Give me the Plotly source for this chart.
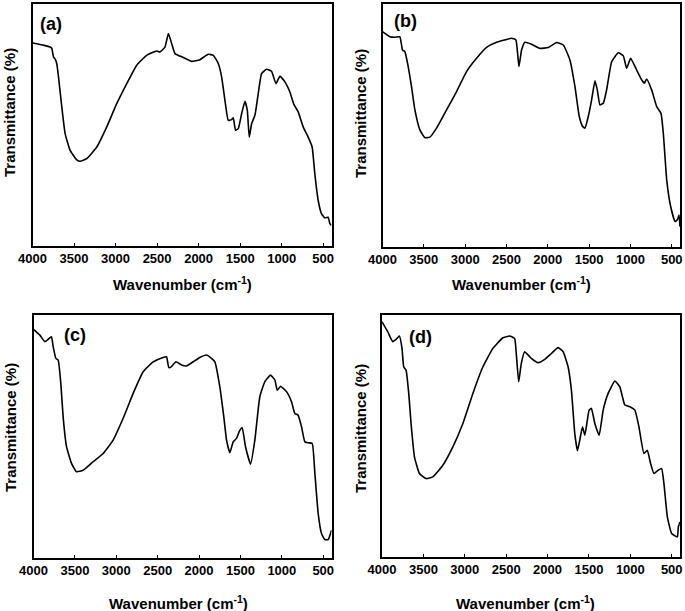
import plotly.graph_objects as go

W, H = 685, 611

# ---------------- data (transmittance, arbitrary units 0-100) ----------------
wn_a = [4000, 3868, 3788, 3767, 3747, 3727, 3707, 3687, 3647, 3607, 3547, 3467, 3427, 3347, 3226, 3106,
        2986, 2865, 2745, 2625, 2505, 2465, 2405, 2364, 2324, 2284, 2184, 2084, 1984, 1883, 1823, 1763,
        1723, 1683, 1643, 1603, 1583, 1555, 1522, 1482, 1442, 1414, 1390, 1362, 1322, 1282, 1242, 1182,
        1122, 1069, 1021, 961, 901, 853, 801, 741, 681, 633, 601, 560, 520, 480, 440, 420, 400]
tr_a = [83.7, 82.8, 82.0, 81.4, 77.9, 77.0, 75.0, 69.7, 57.2, 46.2, 39.3, 35.4, 34.8, 35.9, 40.7, 49.0,
        58.6, 66.9, 74.5, 78.6, 80.4, 80.0, 82.0, 87.6, 83.4, 79.3, 77.7, 76.1, 76.8, 79.0, 78.6, 75.2,
        69.7, 60.0, 51.7, 52.0, 52.8, 47.6, 48.3, 54.5, 59.6, 55.9, 44.8, 50.3, 53.8, 62.8, 71.0, 72.8,
        72.0, 66.9, 69.9, 67.6, 63.4, 58.3, 55.2, 49.0, 44.8, 40.7, 29.7, 18.6, 13.1, 11.4, 11.7, 9.0, 8.3]

wn_b = [4000, 3911, 3851, 3790, 3758, 3730, 3689, 3649, 3608, 3548, 3487, 3427, 3346, 3225, 3104, 2983,
        2862, 2741, 2620, 2519, 2438, 2386, 2349, 2317, 2277, 2196, 2095, 1994, 1893, 1812, 1732, 1671,
        1619, 1578, 1550, 1510, 1470, 1429, 1401, 1369, 1328, 1288, 1227, 1147, 1086, 1046, 997, 925,
        864, 832, 804, 743, 682, 630, 602, 561, 513, 460, 432, 412, 400]
tr_b = [88.6, 86.5, 86.3, 86.5, 81.0, 80.4, 74.2, 65.9, 56.3, 48.1, 44.9, 45.1, 48.8, 56.3, 63.9, 72.1,
        77.6, 82.1, 84.2, 85.2, 85.9, 85.2, 74.2, 81.0, 84.2, 83.4, 81.7, 82.1, 84.1, 83.1, 76.9, 65.9,
        53.6, 49.5, 48.8, 53.6, 60.4, 68.3, 64.6, 58.4, 59.1, 64.6, 76.2, 79.9, 78.6, 73.5, 77.6, 72.8,
        68.7, 67.3, 69.1, 64.6, 57.7, 54.9, 46.7, 27.5, 16.5, 10.3, 11.0, 13.0, 8.2]

wn_c = [4000, 3923, 3863, 3823, 3783, 3762, 3730, 3702, 3670, 3642, 3601, 3541, 3481, 3400, 3279, 3158,
        3038, 2917, 2796, 2675, 2554, 2434, 2393, 2365, 2333, 2280, 2212, 2152, 2071, 1991, 1910, 1850,
        1809, 1749, 1701, 1668, 1628, 1588, 1548, 1515, 1479, 1439, 1378, 1326, 1266, 1205, 1137, 1084,
        1056, 1016, 943, 883, 843, 803, 762, 722, 682, 633, 601, 561, 521, 481, 440, 412, 400]
tr_c = [94.1, 91.7, 89.0, 90.0, 91.0, 86.9, 82.1, 81.4, 71.8, 58.0, 45.7, 38.8, 35.4, 36.0, 39.5, 42.9,
        48.4, 57.4, 67.7, 76.6, 80.7, 82.5, 82.8, 78.3, 78.7, 80.7, 79.4, 79.0, 80.7, 82.5, 83.5, 82.1,
        80.7, 70.4, 58.0, 48.4, 43.2, 47.7, 49.1, 51.9, 53.6, 45.7, 38.5, 48.4, 66.3, 72.5, 75.2, 73.2,
        69.0, 70.6, 68.4, 64.2, 59.4, 58.7, 53.9, 47.7, 47.3, 47.0, 34.7, 18.2, 9.9, 7.4, 7.4, 9.9, 11.3]

wn_d = [4000, 3931, 3871, 3830, 3790, 3758, 3738, 3709, 3677, 3649, 3608, 3548, 3467, 3387, 3265, 3144,
        3023, 2902, 2781, 2660, 2539, 2458, 2398, 2378, 2349, 2317, 2277, 2196, 2115, 2034, 1954, 1873,
        1812, 1752, 1712, 1671, 1639, 1611, 1578, 1550, 1522, 1498, 1470, 1429, 1377, 1328, 1268, 1187,
        1127, 1066, 1005, 945, 896, 836, 795, 755, 715, 662, 622, 594, 553, 501, 432, 420, 400]
tr_d = [97.2, 93.1, 89.0, 89.9, 91.3, 86.2, 78.6, 77.2, 67.6, 55.2, 41.4, 34.5, 32.4, 33.1, 37.9, 45.5,
        55.2, 67.6, 78.6, 86.2, 90.6, 91.3, 90.3, 84.1, 72.4, 80.0, 84.8, 82.1, 80.3, 81.7, 84.1, 86.5,
        84.8, 78.6, 69.0, 51.0, 43.9, 48.3, 53.8, 50.3, 55.9, 60.7, 61.4, 55.2, 50.3, 60.7, 67.6, 72.7,
        70.3, 62.8, 62.1, 60.7, 53.8, 42.8, 44.1, 38.6, 34.5, 35.9, 36.6, 30.3, 16.6, 9.7, 8.3, 12.4, 14.5]

x_ticks = [4000, 3500, 3000, 2500, 2000, 1500, 1000, 500]
x_title = "Wavenumber (cm<sup>-1</sup>)"
y_title = "Transmittance (%)"
panel_labels = ["(a)", "(b)", "(c)", "(d)"]

# ---------------- layout (pixel geometry) ----------------
def fx(p):
    return p / W

def fy(p):
    return 1 - p / H

panels = [
    # data, plot box (x0, x1, ytop, ybottom), label pos, x-title pos, y-title pos
    (wn_a, tr_a, (32.5, 331.5, 3.5, 245.5), (51, 24), (182, 283), (10, 113)),
    (wn_b, tr_b, (382.5, 680, 4, 246.5), (405, 21), (521, 283), (360, 114)),
    (wn_c, tr_c, (33.5, 331.5, 315, 557.5), (75, 335), (178, 602), (10, 428)),
    (wn_d, tr_d, (382, 680, 315, 557), (420, 337), (525, 602), (360, 429)),
]

fig = go.Figure()
annotations = []
bold = dict(family="Liberation Sans, Arial, sans-serif", color="black", weight="bold")

for i, (wn, tr, box, lab, xt, yt) in enumerate(panels):
    n = "" if i == 0 else str(i + 1)
    fig.add_trace(go.Scatter(x=wn, y=tr, mode="lines", xaxis="x" + n, yaxis="y" + n,
                             line=dict(color="black", width=1.6, shape="spline", smoothing=0.4),
                             showlegend=False, hoverinfo="skip"))
    x0, x1, yt0, yb0 = box
    fig.update_layout(**{
        "xaxis" + n: dict(domain=[fx(x0), fx(x1)], anchor="y" + n, range=[4000, 400],
                          tickvals=x_ticks, ticks="inside", ticklen=3, tickwidth=1.3, tickcolor="black",
                          showline=True, linecolor="black", linewidth=1.6, mirror=True,
                          showgrid=False, zeroline=False, automargin=False,
                          tickfont=dict(size=13, **bold)),
        "yaxis" + n: dict(domain=[fy(yb0), fy(yt0)], anchor="x" + n, range=[0, 100],
                          showticklabels=False, ticks="", showline=True, linecolor="black",
                          linewidth=1.6, mirror=True, showgrid=False, zeroline=False, automargin=False),
    })
    annotations.append(dict(text=panel_labels[i], x=fx(lab[0]), y=fy(lab[1]), xref="paper", yref="paper",
                            showarrow=False, xanchor="center", yanchor="middle",
                            font=dict(size=18, **bold)))
    annotations.append(dict(text=x_title, x=fx(xt[0]), y=fy(xt[1]), xref="paper", yref="paper",
                            showarrow=False, xanchor="center", yanchor="middle",
                            font=dict(size=15, **bold)))
    annotations.append(dict(text=y_title, x=fx(yt[0]), y=fy(yt[1]), xref="paper", yref="paper",
                            showarrow=False, xanchor="center", yanchor="middle", textangle=-90,
                            font=dict(size=15, **bold)))

fig.update_layout(width=W, height=H, margin=dict(l=0, r=0, t=0, b=0), template="none",
                  paper_bgcolor="white", plot_bgcolor="white", annotations=annotations)

fig.write_html("out.html", config={"displayModeBar": False},
               post_script="document.body.style.margin='0';document.body.style.overflow='hidden';")
